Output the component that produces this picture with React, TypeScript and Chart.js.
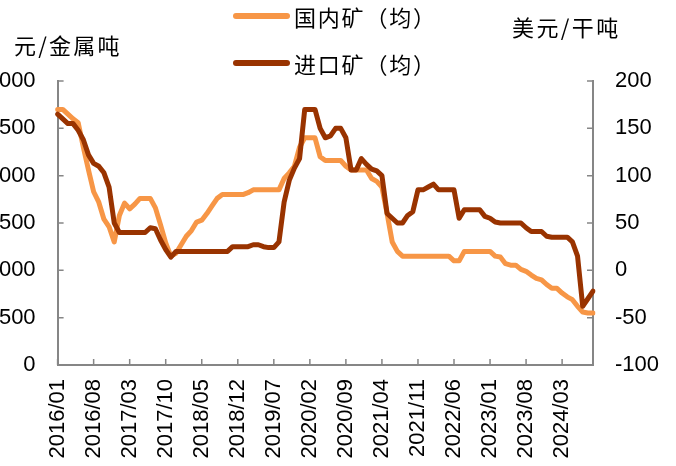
import React, { useEffect, useRef } from 'react';
import { Chart, registerables } from 'chart.js';

Chart.register(...registerables);

const monthLabels = [
  '2016/01','2016/02','2016/03','2016/04','2016/05','2016/06','2016/07','2016/08','2016/09','2016/10','2016/11','2016/12',
  '2017/01','2017/02','2017/03','2017/04','2017/05','2017/06','2017/07','2017/08','2017/09','2017/10','2017/11','2017/12',
  '2018/01','2018/02','2018/03','2018/04','2018/05','2018/06','2018/07','2018/08','2018/09','2018/10','2018/11','2018/12',
  '2019/01','2019/02','2019/03','2019/04','2019/05','2019/06','2019/07','2019/08','2019/09','2019/10','2019/11','2019/12',
  '2020/01','2020/02','2020/03','2020/04','2020/05','2020/06','2020/07','2020/08','2020/09','2020/10','2020/11','2020/12',
  '2021/01','2021/02','2021/03','2021/04','2021/05','2021/06','2021/07','2021/08','2021/09','2021/10','2021/11','2021/12',
  '2022/01','2022/02','2022/03','2022/04','2022/05','2022/06','2022/07','2022/08','2022/09','2022/10','2022/11','2022/12',
  '2023/01','2023/02','2023/03','2023/04','2023/05','2023/06','2023/07','2023/08','2023/09','2023/10','2023/11','2023/12',
  '2024/01','2024/02','2024/03','2024/04','2024/05','2024/06','2024/07','2024/08','2024/09',
];

// 国内矿（均） 元/金属吨 (left axis)
const domesticOre = [
  2700, 2700, 2650, 2600, 2560, 2300, 2060, 1830, 1720, 1540,
  1460, 1300, 1580, 1710, 1650, 1700, 1760, 1760, 1760, 1660,
  1480, 1290, 1150, 1180, 1270, 1360, 1420, 1510, 1530, 1600,
  1680, 1760, 1800, 1800, 1800, 1800, 1800, 1820, 1850, 1850,
  1850, 1850, 1850, 1850, 1970, 2030, 2100, 2300, 2400, 2400,
  2400, 2200, 2160, 2160, 2160, 2160, 2100, 2060, 2060, 2060,
  2060, 1970, 1940, 1880, 1600, 1300, 1200, 1150, 1150, 1150,
  1150, 1150, 1150, 1150, 1150, 1150, 1150, 1100, 1100, 1200,
  1200, 1200, 1200, 1200, 1200, 1150, 1140, 1070, 1055, 1055,
  1010, 990, 950, 915, 900, 850, 810, 810, 760, 720,
  690, 620, 560, 550, 550,
];

// 进口矿（均） 美元/干吨 (right axis)
const importedOre = [
  165, 160, 155, 155, 148, 138, 122, 113, 110, 103,
  88, 50, 40, 40, 40, 40, 40, 40, 45, 44,
  32, 22, 14, 20, 20, 20, 20, 20, 20, 20,
  20, 20, 20, 20, 25, 25, 25, 25, 27, 27,
  25, 24, 24, 30, 72, 95, 108, 118, 170, 170,
  170, 150, 140, 142, 150, 150, 140, 106, 106, 118,
  112, 107, 105, 100, 60, 55, 50, 50, 58, 62,
  85, 85, 88, 91, 85, 85, 85, 85, 55, 64,
  64, 64, 64, 57, 55, 51, 50, 50, 50, 50,
  50, 45, 41, 41, 41, 36, 35, 35, 35, 35,
  30, 15, -38, -30, -22,
];

const seriesNames = ['国内矿（均）', '进口矿（均）'];
const leftUnit = '元/金属吨';
const rightUnit = '美元/干吨';

const ORANGE = '#F79646';
const BROWN = '#993300';
const AXIS = '#868686';
const LABEL_STEP = 7;
const NUM_FONT = '"Liberation Sans", Arial, sans-serif';
const CJK_FONT = '"Noto Sans CJK SC", "Noto Sans", sans-serif';

const inwardTicks = {
  id: 'inwardTicks',
  afterDraw(chart: any) {
    const { ctx } = chart;
    const xs = chart.scales.x;
    const yl = chart.scales.y;
    const yr = chart.scales.y1;
    ctx.save();
    ctx.strokeStyle = AXIS;
    ctx.lineWidth = 1.5;
    ctx.beginPath();
    yl.ticks.forEach((t: any) => {
      const py = yl.getPixelForValue(t.value);
      ctx.moveTo(xs.left, py);
      ctx.lineTo(xs.left + 6, py);
    });
    yr.ticks.forEach((t: any) => {
      const py = yr.getPixelForValue(t.value);
      ctx.moveTo(xs.right, py);
      ctx.lineTo(xs.right - 6, py);
    });
    for (let i = 0; i < monthLabels.length; i += LABEL_STEP) {
      const px = xs.getPixelForValue(i);
      ctx.moveTo(px, yl.bottom);
      ctx.lineTo(px, yl.bottom - 6);
    }
    ctx.stroke();
    ctx.restore();
  },
};

const CANVAS_LEFT = -20;
const CANVAS_W = 700;
const CANVAS_H = 466;

export default function App() {
  const ref = useRef<HTMLCanvasElement | null>(null);

  useEffect(() => {
    if (!ref.current) return;
    const chart = new Chart(ref.current, {
      type: 'line',
      data: {
        labels: monthLabels,
        datasets: [
          {
            label: seriesNames[0],
            data: domesticOre,
            yAxisID: 'y',
            borderColor: ORANGE,
            backgroundColor: ORANGE,
            borderWidth: 5,
            pointRadius: 0,
            tension: 0,
            order: 1,
            borderJoinStyle: 'round',
            borderCapStyle: 'round',
          },
          {
            label: seriesNames[1],
            data: importedOre,
            yAxisID: 'y1',
            borderColor: BROWN,
            backgroundColor: BROWN,
            borderWidth: 5,
            pointRadius: 0,
            tension: 0,
            order: 0,
            borderJoinStyle: 'round',
            borderCapStyle: 'round',
          },
        ],
      },
      options: {
        responsive: false,
        animation: false,
        devicePixelRatio: 1,
        layout: { padding: { top: 81, left: 0, right: 0, bottom: 0 } },
        plugins: { legend: { display: false }, tooltip: { enabled: false } },
        scales: {
          x: {
            type: 'category',
            offset: false,
            grid: { display: false, drawTicks: false },
            border: { display: true, color: AXIS, width: 2 },
            ticks: {
              autoSkip: false,
              maxRotation: 90,
              minRotation: 90,
              padding: 14,
              color: '#000',
              font: { family: NUM_FONT, size: 22 },
              callback: (_v: any, i: number) => (i % LABEL_STEP === 0 ? monthLabels[i] : ''),
            },
            afterFit: (s: any) => { s.height = 101; },
          },
          y: {
            position: 'left',
            min: 0,
            max: 3000,
            grid: { display: false, drawTicks: false },
            border: { display: true, color: AXIS, width: 2 },
            ticks: { stepSize: 500, padding: 22, color: '#000', font: { family: NUM_FONT, size: 22 } },
            afterFit: (s: any) => { s.width = 77.6; },
          },
          y1: {
            position: 'right',
            min: -100,
            max: 200,
            grid: { display: false, drawTicks: false },
            border: { display: true, color: AXIS, width: 2 },
            ticks: { stepSize: 50, padding: 22, color: '#000', font: { family: NUM_FONT, size: 22 } },
            afterFit: (s: any) => { s.width = 87; },
          },
        },
      },
      plugins: [inwardTicks],
    } as any);
    return () => chart.destroy();
  }, []);

  const textStyle = (left: number, cy: number, size: number, spacing: number): React.CSSProperties => ({
    position: 'absolute',
    left,
    top: cy - 16,
    height: 32,
    lineHeight: '32px',
    fontFamily: CJK_FONT,
    fontSize: size,
    letterSpacing: spacing,
    color: '#000',
    whiteSpace: 'nowrap',
  });

  const lineStyle = (cy: number, color: string): React.CSSProperties => ({
    position: 'absolute',
    left: 233,
    top: cy - 3,
    width: 57,
    height: 6,
    borderRadius: 3,
    background: color,
  });

  return (
    <div style={{ position: 'fixed', left: 0, top: 0, width: 676, height: 466, overflow: 'hidden', background: '#fff' }}>
      <canvas
        ref={ref}
        width={CANVAS_W}
        height={CANVAS_H}
        style={{ position: 'absolute', left: CANVAS_LEFT, top: 0, width: CANVAS_W, height: CANVAS_H }}
      />
      <div style={lineStyle(16, ORANGE)} />
      <div style={textStyle(294, 16, 22, 1.8)}>{seriesNames[0]}</div>
      <div style={lineStyle(63, BROWN)} />
      <div style={textStyle(294, 63, 22, 1.8)}>{seriesNames[1]}</div>
      <div style={textStyle(14, 44, 22, 2.2)}>{leftUnit}</div>
      <div style={textStyle(512, 26, 22, 2.4)}>{rightUnit}</div>
    </div>
  );
}
